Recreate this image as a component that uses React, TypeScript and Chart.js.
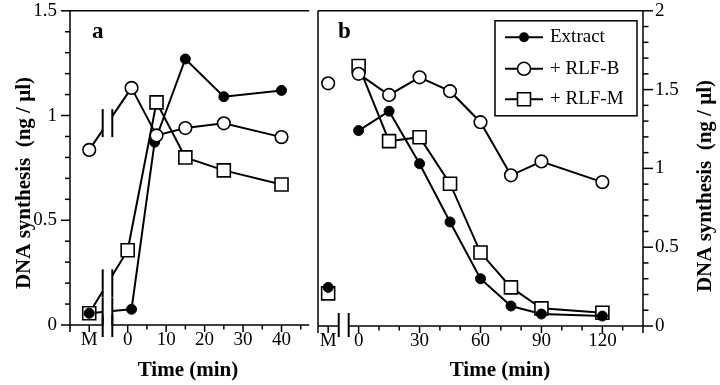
import React, { useEffect, useRef } from 'react';
import { Chart, registerables } from 'chart.js';
Chart.register(...registerables);

// ---- categories / positions of the "M" (mitotic) sample and axis breaks (in minutes, scale units)
const M_A = -10;
const M_B = -15;
const BREAK_A = [-6.5, -4];
const BREAK_B = [-9.8, -4.9];

// ---- panel a data
const extractTimeA = [M_A, 1, 7, 15, 25, 40];
const extractA = [0.056, 0.075, 0.873, 1.27, 1.09, 1.12];
const rlfbTimeA = [M_A, 1, 7.5, 15, 25, 40];
const rlfbA = [0.836, 1.132, 0.905, 0.94, 0.963, 0.897];
const rlfmTimeA = [M_A, 0, 7.5, 15, 25, 40];
const rlfmA = [0.056, 0.357, 1.063, 0.8, 0.738, 0.671];

// ---- panel b data
const timeB = [M_B, 0, 15, 30, 45, 60, 75, 90, 120];
const extractB = [0.245, 1.24, 1.363, 1.03, 0.66, 0.3, 0.127, 0.076, 0.063];
const rlfbB = [1.54, 1.6, 1.466, 1.578, 1.49, 1.293, 0.956, 1.044, 0.913];
const rlfmB = [0.207, 1.65, 1.173, 1.198, 0.903, 0.466, 0.245, 0.112, 0.084];

// ---- ticks
const xLabelsA = [0, 10, 20, 30, 40];
const xMinorA = [5, 15, 25, 35, 45];
const xLabelsB = [0, 30, 60, 90, 120];
const xMinorB = [10, 20, 40, 50, 70, 80, 100, 110, 130];
const yLabelsA = [0, 0.5, 1, 1.5];
const yLabelsB = [0, 0.5, 1, 1.5, 2];
const seriesNames = ['Extract', '+ RLF-B', '+ RLF-M'];
const yTitle = 'DNA synthesis  (ng / \u00B5l)';
const xTitle = 'Time (min)';

const SERIF = '"Liberation Serif", "Times New Roman", serif';

function pts(xs: number[], ys: number[]) {
  return xs.map((x, i) => ({ x, y: ys[i] }));
}

const lineCommon = {
  borderColor: '#000',
  borderWidth: 2,
  fill: false,
  tension: 0,
  clip: false as const,
  segment: {
    borderColor: (c: any) => (c.p0DataIndex === 0 ? 'rgba(0,0,0,0)' : '#000'),
  },
};

const styles = [
  { pointStyle: 'circle', pointRadius: 5, pointBackgroundColor: '#000', pointBorderColor: '#000', pointBorderWidth: 1, order: 1 },
  { pointStyle: 'circle', pointRadius: 6.3, pointBackgroundColor: '#fff', pointBorderColor: '#000', pointBorderWidth: 1.6, order: 0 },
  { pointStyle: 'rect', pointRadius: 9.2, pointBackgroundColor: '#fff', pointBorderColor: '#000', pointBorderWidth: 1.6, order: 2 },
];

function seg(ctx: CanvasRenderingContext2D, x1: number, y1: number, x2: number, y2: number) {
  ctx.beginPath();
  ctx.moveTo(x1, y1);
  ctx.lineTo(x2, y2);
  ctx.stroke();
}

function drawMarker(ctx: CanvasRenderingContext2D, kind: number, x: number, y: number) {
  ctx.save();
  ctx.strokeStyle = '#000';
  if (kind === 0) {
    ctx.fillStyle = '#000';
    ctx.beginPath();
    ctx.arc(x, y, 5, 0, Math.PI * 2);
    ctx.fill();
  } else if (kind === 1) {
    ctx.fillStyle = '#fff';
    ctx.lineWidth = 1.6;
    ctx.beginPath();
    ctx.arc(x, y, 6.5, 0, Math.PI * 2);
    ctx.fill();
    ctx.stroke();
  } else {
    ctx.fillStyle = '#fff';
    ctx.lineWidth = 1.6;
    ctx.beginPath();
    ctx.rect(x - 6.5, y - 6.5, 13, 13);
    ctx.fill();
    ctx.stroke();
  }
  ctx.restore();
}

function drawXAxis(chart: any, breaks: number[], majors: number[], minors: number[], bar: [number, number]) {
  const { ctx, chartArea } = chart;
  const { left, right, bottom } = chartArea;
  const xs = chart.scales.x;
  const b1 = xs.getPixelForValue(breaks[0]);
  const b2 = xs.getPixelForValue(breaks[1]);
  ctx.lineWidth = 1.5;
  seg(ctx, left, bottom, b1, bottom);
  seg(ctx, b2, bottom, right, bottom);
  ctx.lineWidth = 2;
  seg(ctx, b1, bottom - bar[0], b1, bottom + bar[1]);
  seg(ctx, b2, bottom - bar[0], b2, bottom + bar[1]);
  ctx.lineWidth = 1.5;
  majors.forEach((v) => {
    const x = xs.getPixelForValue(v);
    seg(ctx, x, bottom, x, bottom + 7);
  });
  minors.forEach((v) => {
    const x = xs.getPixelForValue(v);
    seg(ctx, x, bottom, x, bottom + 4.5);
  });
}

function drawRotated(ctx: CanvasRenderingContext2D, text: string, x: number, y: number) {
  ctx.save();
  ctx.translate(x, y);
  ctx.rotate(-Math.PI / 2);
  ctx.textAlign = 'center';
  ctx.textBaseline = 'alphabetic';
  ctx.fillText(text, 0, 0);
  ctx.restore();
}

const panelAPlugin = {
  id: 'panelA',
  beforeDatasetsDraw(chart: any) {
    const { ctx } = chart;
    const xs = chart.scales.x;
    const b1 = xs.getPixelForValue(BREAK_A[0]);
    const b2 = xs.getPixelForValue(BREAK_A[1]);
    ctx.save();
    ctx.strokeStyle = '#000';
    chart.data.datasets.forEach((_: any, i: number) => {
      const meta = chart.getDatasetMeta(i);
      const p0 = meta.data[0] as any;
      const p1 = meta.data[1] as any;
      const yAt = (x: number) => p0.y + ((p1.y - p0.y) * (x - p0.x)) / (p1.x - p0.x);
      ctx.lineWidth = 2;
      ctx.beginPath();
      ctx.moveTo(p0.x, p0.y);
      ctx.lineTo(b1, yAt(b1));
      ctx.moveTo(b2, yAt(b2));
      ctx.lineTo(p1.x, p1.y);
      ctx.stroke();
      const ym = yAt((b1 + b2) / 2);
      seg(ctx, b1, ym - 14, b1, ym + 14);
      seg(ctx, b2, ym - 14, b2, ym + 14);
    });
    ctx.restore();
  },
  afterDraw(chart: any) {
    const { ctx, chartArea } = chart;
    const { left, right, top, bottom } = chartArea;
    const ys = chart.scales.y;
    ctx.save();
    ctx.strokeStyle = '#000';
    ctx.lineWidth = 1.5;
    seg(ctx, left, top, right, top);
    seg(ctx, left, top, left, bottom + 7);
    drawXAxis(chart, BREAK_A, [M_A, ...xLabelsA], xMinorA, [10, 12]);
    ctx.lineWidth = 1.5;
    for (let i = 0; i <= 15; i++) {
      const y = ys.getPixelForValue(i / 10);
      const len = i % 5 === 0 ? 9 : 5;
      seg(ctx, left - len, y, left, y);
    }
    ctx.fillStyle = '#000';
    ctx.font = `bold 23px ${SERIF}`;
    ctx.textAlign = 'left';
    ctx.textBaseline = 'alphabetic';
    ctx.fillText('a', left + 22, 38);
    ctx.font = `bold 21px ${SERIF}`;
    ctx.textAlign = 'center';
    ctx.fillText(xTitle, 188, 376);
    drawRotated(ctx, yTitle, 30, 183);
    ctx.restore();
  },
};

const panelBPlugin = {
  id: 'panelB',
  afterDraw(chart: any) {
    const { ctx, chartArea } = chart;
    const { left, right, top, bottom } = chartArea;
    const ys = chart.scales.y;
    ctx.save();
    ctx.strokeStyle = '#000';
    ctx.lineWidth = 1.5;
    seg(ctx, left, top, right, top);
    seg(ctx, left, top, left, bottom + 7);
    seg(ctx, right, top, right, bottom + 7);
    drawXAxis(chart, BREAK_B, [M_B, ...xLabelsB], xMinorB, [13, 11]);
    ctx.lineWidth = 1.5;
    for (let i = 0; i <= 20; i++) {
      const y = ys.getPixelForValue(i / 10);
      const len = i % 5 === 0 ? 10 : 5.5;
      seg(ctx, right, y, right + len, y);
    }
    ctx.fillStyle = '#000';
    ctx.font = `bold 23px ${SERIF}`;
    ctx.textAlign = 'left';
    ctx.textBaseline = 'alphabetic';
    ctx.fillText('b', left + 20, 38);
    ctx.font = `bold 21px ${SERIF}`;
    ctx.textAlign = 'center';
    ctx.fillText(xTitle, 200, 376);
    drawRotated(ctx, yTitle, 411, 186);

    // legend
    const bl = right - 148;
    const bt = top + 10;
    const bw = 142;
    const bh = 95;
    ctx.fillStyle = '#fff';
    ctx.fillRect(bl, bt, bw, bh);
    ctx.lineWidth = 1.5;
    ctx.strokeRect(bl, bt, bw, bh);
    const rows = [16.5, 48, 78.5];
    seriesNames.forEach((name, i) => {
      const y = bt + rows[i];
      ctx.lineWidth = 2;
      seg(ctx, bl + 10, y, bl + 48, y);
      drawMarker(ctx, i, bl + 29, y);
      ctx.fillStyle = '#000';
      ctx.font = `19px ${SERIF}`;
      ctx.textAlign = 'left';
      ctx.textBaseline = 'middle';
      ctx.fillText(name, bl + 55, y);
    });
    ctx.restore();
  },
};

function tickFont() {
  return { family: SERIF, size: 19 };
}

function buildChart(
  canvas: HTMLCanvasElement,
  panel: 'a' | 'b',
) {
  const isA = panel === 'a';
  const datasets = isA
    ? [
        { label: seriesNames[0], data: pts(extractTimeA, extractA), ...lineCommon, ...styles[0] },
        { label: seriesNames[1], data: pts(rlfbTimeA, rlfbA), ...lineCommon, ...styles[1] },
        { label: seriesNames[2], data: pts(rlfmTimeA, rlfmA), ...lineCommon, ...styles[2] },
      ]
    : [
        { label: seriesNames[0], data: pts(timeB, extractB), ...lineCommon, ...styles[0] },
        { label: seriesNames[1], data: pts(timeB, rlfbB), ...lineCommon, ...styles[1] },
        { label: seriesNames[2], data: pts(timeB, rlfmB), ...lineCommon, ...styles[2] },
      ];
  const mPos = isA ? M_A : M_B;
  const xLabels = isA ? xLabelsA : xLabelsB;
  const yLabels = isA ? yLabelsA : yLabelsB;
  return new Chart(canvas, {
    type: 'line',
    data: { datasets: datasets as any },
    options: {
      responsive: false,
      animation: false,
      events: [],
      layout: { padding: isA ? { left: 0, right: 2, top: 10, bottom: 0 } : { left: 18, right: 0, top: 10, bottom: 0 } },
      plugins: { legend: { display: false }, tooltip: { enabled: false } },
      scales: {
        x: {
          type: 'linear',
          min: isA ? -15 : -20,
          max: isA ? 47.2 : 140,
          grid: { display: true, drawOnChartArea: false, drawTicks: false },
          border: { display: false },
          ticks: {
            autoSkip: false,
            maxRotation: 0,
            padding: 4,
            color: '#000',
            font: tickFont(),
            callback: (v: any) => (v === mPos ? 'M' : String(v)),
          },
          afterBuildTicks: (s: any) => {
            s.ticks = [mPos, ...xLabels].map((value) => ({ value }));
          },
          afterFit: (s: any) => {
            s.height = isA ? 60 : 59;
            s.paddingLeft = 0;
            s.paddingRight = 0;
          },
        },
        y: {
          type: 'linear',
          position: isA ? 'left' : 'right',
          min: 0,
          max: isA ? 1.5 : 2,
          grid: { display: true, drawOnChartArea: false, drawTicks: false },
          border: { display: false },
          ticks: {
            padding: isA ? 13 : 12,
            color: '#000',
            font: tickFont(),
            callback: (v: any) => String(v),
          },
          afterBuildTicks: (s: any) => {
            s.ticks = yLabels.map((value) => ({ value }));
          },
          afterFit: (s: any) => {
            s.width = isA ? 70 : 77;
            s.paddingTop = 0;
            s.paddingBottom = 0;
          },
        },
      },
    } as any,
    plugins: [isA ? panelAPlugin : panelBPlugin],
  });
}

export default function App() {
  const refA = useRef<HTMLCanvasElement>(null);
  const refB = useRef<HTMLCanvasElement>(null);
  useEffect(() => {
    const a = buildChart(refA.current!, 'a');
    const b = buildChart(refB.current!, 'b');
    return () => {
      a.destroy();
      b.destroy();
    };
  }, []);
  return (
    <div style={{ position: 'absolute', left: 0, top: 0, width: 720, height: 385, background: '#fff', overflow: 'hidden' }}>
      <canvas ref={refA} width={320} height={385} style={{ position: 'absolute', left: 0, top: 0, width: 320, height: 385 }} />
      <canvas ref={refB} width={420} height={385} style={{ position: 'absolute', left: 300, top: 0, width: 420, height: 385 }} />
    </div>
  );
}
